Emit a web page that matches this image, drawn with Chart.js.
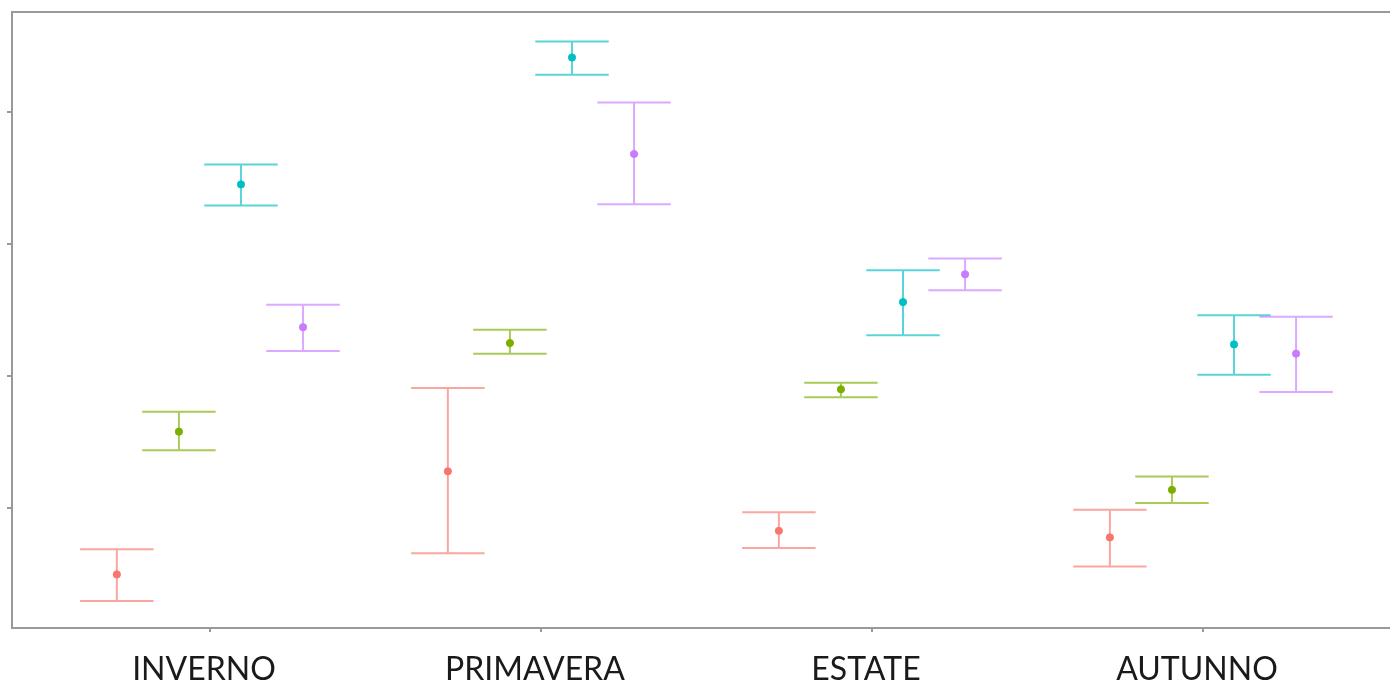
<!DOCTYPE html>
<html>
<head>
<meta charset="utf-8">
<script src="https://cdn.jsdelivr.net/npm/chart.js@4.4.0/dist/chart.umd.min.js"></script>
<style>
  html, body { margin: 0; padding: 0; background: #fff; overflow: hidden; }
  #wrap { width: 1390px; height: 685px; }
</style>
</head>
<body>
<div id="wrap"><canvas id="grafico"></canvas></div>
<script>
// stagioni e gruppi
const stagioni = ["INVERNO", "PRIMAVERA", "ESTATE", "AUTUNNO"];
const gruppi = ["G1", "G2", "G3", "G4"];
const coloriPunti = ["#F8766D", "#7CAE00", "#00BFC4", "#C77CFF"];
const coloriBarre = ["rgba(248,118,109,0.65)", "rgba(124,174,0,0.65)", "rgba(0,191,196,0.65)", "rgba(199,124,255,0.65)"];

// medie per gruppo (una per stagione)
const mediaG1 = [0.50, 1.28, 0.83, 0.78];
const mediaG2 = [1.58, 2.25, 1.90, 1.14];
const mediaG3 = [3.45, 4.41, 2.56, 2.24];
const mediaG4 = [2.37, 3.68, 2.77, 2.17];

// limiti inferiori / superiori
const bassoG1 = [0.30, 0.66, 0.70, 0.56];
const altoG1 = [0.69, 1.91, 0.97, 0.99];
const bassoG2 = [1.44, 2.17, 1.84, 1.04];
const altoG2 = [1.73, 2.35, 1.95, 1.24];
const bassoG3 = [3.29, 4.28, 2.31, 2.01];
const altoG3 = [3.60, 4.53, 2.80, 2.46];
const bassoG4 = [2.19, 3.30, 2.65, 1.88];
const altoG4 = [2.54, 4.07, 2.89, 2.45];

const yTicks = [1, 2, 3, 4];

const medie = [mediaG1, mediaG2, mediaG3, mediaG4];
const bassi = [bassoG1, bassoG2, bassoG3, bassoG4];
const alti = [altoG1, altoG2, altoG3, altoG4];

// dodge come in ggplot (width 0.75)
const dodge = 0.75;
const passo = dodge / gruppi.length;
function offset(g) { return (g - (gruppi.length - 1) / 2) * passo; }
const mezzaBarra = 0.111;

const datasets = gruppi.map((g, gi) => ({
  label: g,
  data: medie[gi].map((v, si) => ({ x: si + offset(gi), y: v })),
  backgroundColor: coloriPunti[gi],
  borderColor: coloriPunti[gi],
  pointRadius: 3.6,
  pointHoverRadius: 3.6
}));

const barreErrore = {
  id: "barreErrore",
  beforeDatasetsDraw(chart) {
    const ctx = chart.ctx;
    const xs = chart.scales.x;
    const ys = chart.scales.y;
    ctx.save();
    ctx.lineWidth = 2;
    gruppi.forEach((g, gi) => {
      ctx.strokeStyle = coloriBarre[gi];
      stagioni.forEach((s, si) => {
        const xc = si + offset(gi);
        const px = xs.getPixelForValue(xc);
        const pl = xs.getPixelForValue(xc - mezzaBarra);
        const pr = xs.getPixelForValue(xc + mezzaBarra);
        const yb = ys.getPixelForValue(bassi[gi][si]);
        const ya = ys.getPixelForValue(alti[gi][si]);
        ctx.beginPath();
        ctx.moveTo(px, ya); ctx.lineTo(px, yb);
        ctx.moveTo(pl, ya); ctx.lineTo(pr, ya);
        ctx.moveTo(pl, yb); ctx.lineTo(pr, yb);
        ctx.stroke();
      });
    });
    ctx.restore();
  },
  afterDraw(chart) {
    // bordo superiore del pannello
    const a = chart.chartArea;
    const ctx = chart.ctx;
    ctx.save();
    ctx.strokeStyle = "#999999";
    ctx.lineWidth = 2;
    ctx.beginPath();
    ctx.moveTo(a.left - 1, a.top);
    ctx.lineTo(a.right, a.top);
    ctx.stroke();
    ctx.restore();
  }
};

new Chart(document.getElementById("grafico"), {
  type: "scatter",
  data: { datasets },
  options: {
    responsive: true,
    maintainAspectRatio: false,
    animation: false,
    layout: { autoPadding: false, padding: { top: 12, left: 0, right: 0, bottom: 0 } },
    plugins: {
      legend: { display: false },
      tooltip: { enabled: false }
    },
    scales: {
      x: {
        type: "linear",
        min: -0.598,
        max: 3.565,
        afterBuildTicks: (scale) => { scale.ticks = stagioni.map((s, i) => ({ value: i })); },
        afterFit: (scale) => { scale.height = 57; },
        grid: { drawOnChartArea: false, drawTicks: true, tickLength: 4, color: "#999999", lineWidth: 2 },
        border: { display: true, color: "#999999", width: 2 },
        ticks: {
          autoSkip: false,
          maxRotation: 0,
          padding: 18,
          labelOffset: -6,
          color: "#1a1a1a",
          font: { family: "Lato", size: 32 },
          callback: (v, i) => stagioni[i]
        }
      },
      y: {
        type: "linear",
        min: 0.095,
        max: 4.754,
        afterBuildTicks: (scale) => { scale.ticks = yTicks.map(v => ({ value: v })); },
        afterFit: (scale) => { scale.width = 12; },
        grid: { drawOnChartArea: false, drawTicks: true, tickLength: 5, color: "#999999", lineWidth: 2 },
        border: { display: true, color: "#999999", width: 2 },
        ticks: { display: false }
      }
    }
  },
  plugins: [barreErrore]
});
</script>
</body>
</html>
